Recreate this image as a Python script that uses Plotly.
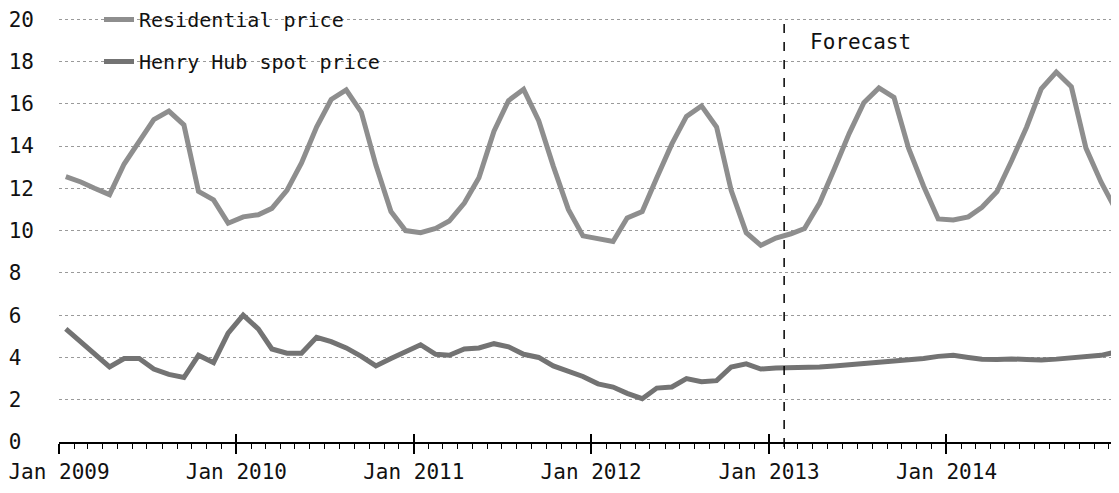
import pandas as pd
import plotly.graph_objects as go

# ---- data ----
months = pd.date_range("2009-01-01", periods=72, freq="MS") + pd.Timedelta(days=14)

residential_price = [
    12.55, 12.3, 12.0, 11.7, 13.15, 14.2, 15.25, 15.65, 15.0, 11.85, 11.45, 10.35,   # 2009
    10.65, 10.75, 11.05, 11.9, 13.2, 14.9, 16.2, 16.65, 15.6, 13.1, 10.9, 10.0,      # 2010
    9.9, 10.1, 10.45, 11.3, 12.5, 14.7, 16.15, 16.68, 15.2, 13.05, 11.0, 9.75,       # 2011
    9.6, 9.48, 10.6, 10.9, 12.5, 14.1, 15.4, 15.9, 14.9, 11.9, 9.9, 9.3,             # 2012
    9.65, 9.85, 10.1, 11.3, 12.9, 14.6, 16.05, 16.75, 16.3, 13.9, 12.1, 10.55,       # 2013
    10.5, 10.65, 11.1, 11.85, 13.3, 14.9, 16.7, 17.5, 16.8, 13.9, 12.3, 11.0,        # 2014
]

henry_hub_price = [
    5.35, 4.75, 4.15, 3.55, 3.95, 3.95, 3.45, 3.2, 3.05, 4.1, 3.75, 5.15,            # 2009
    6.0, 5.35, 4.4, 4.2, 4.2, 4.95, 4.75, 4.45, 4.05, 3.6, 3.95, 4.3,                # 2010
    4.6, 4.15, 4.1, 4.4, 4.45, 4.65, 4.5, 4.15, 4.0, 3.6, 3.35, 3.1,                 # 2011
    2.75, 2.6, 2.3, 2.05, 2.55, 2.6, 3.0, 2.85, 2.9, 3.55, 3.7, 3.45,                # 2012
    3.5, 3.5, 3.5, 3.55, 3.6, 3.65, 3.7, 3.75, 3.8, 3.85, 3.95, 4.05,                # 2013
    4.1, 4.0, 3.92, 3.9, 3.93, 3.9, 3.88, 3.92, 3.97, 4.03, 4.1, 4.25,               # 2014
]

series_names = ["Residential price", "Henry Hub spot price"]
forecast_start = "2013-02-01"
forecast_label = "Forecast"
x_range = ["2009-01-01", "2014-12-22"]
y_range = [0, 20.15]
y_ticks = [0, 2, 4, 6, 8, 10, 12, 14, 16, 18, 20]
y_ticktext = [f"{v}\u00a0" if v < 10 else f"{v}" for v in y_ticks]

FONT = "DejaVu Sans Mono"
# the page body adds an 8px offset at top/left; figure size compensates for it
W, H = 1111, 485
ML, MT, MB = 51, 8, 51
PLOT_W, PLOT_H = W - ML, H - MT - MB

fig = go.Figure()
fig.add_trace(go.Scatter(
    x=months, y=residential_price, name=series_names[0], mode="lines",
    line=dict(color="#8e8e8e", width=5), legendgroup="a", xaxis="x", yaxis="y",
))
fig.add_trace(go.Scatter(
    x=months, y=henry_hub_price, name=series_names[1], mode="lines",
    line=dict(color="#737373", width=5), legendgroup="b", xaxis="x", yaxis="y",
))

fig.add_shape(type="line", xref="x", yref="paper", x0=forecast_start, x1=forecast_start,
              y0=-0.012, y1=0.993, line=dict(color="black", width=1.5, dash="dash"))
fig.add_annotation(x=forecast_start, y=18.9, xref="x", yref="y", text=forecast_label,
                   showarrow=False, xanchor="left", yanchor="middle", xshift=24,
                   font=dict(family=FONT, size=21, color="#111"))

fig.update_layout(
    width=W, height=H,
    margin=dict(l=ML, r=0, t=MT, b=MB, autoexpand=False),
    paper_bgcolor="white", plot_bgcolor="white",
    font=dict(family=FONT, size=21, color="#111"),
    showlegend=True,
    legend=dict(
        x=(91 - ML) / PLOT_W, y=1 + (MT + 8) / PLOT_H, xref="paper", yref="paper",
        xanchor="left", yanchor="top", bgcolor="rgba(0,0,0,0)",
        font=dict(family=FONT, size=20, color="#111"),
        traceorder="grouped", tracegroupgap=13,
    ),
    xaxis=dict(
        type="date", range=x_range, tick0="2009-01-01", dtick="M12",
        tickformat="%b %Y", showgrid=False, zeroline=False,
        showline=True, linecolor="black", linewidth=2,
        ticks="outside", ticklen=10, tickwidth=2, tickcolor="black",
        minor=dict(dtick="M1", ticks="outside", ticklen=5, tickwidth=1,
                   tickcolor="black", showgrid=False),
        tickfont=dict(family=FONT, size=21, color="#111"),
        ticklabeloverflow="allow", automargin=False,
    ),
    xaxis2=dict(
        type="date", range=x_range, tick0="2009-01-01", dtick="M12",
        overlaying="x", anchor="y", side="bottom", showgrid=False, zeroline=False,
        showline=False, ticks="inside", ticklen=8, tickwidth=2, tickcolor="black",
        showticklabels=False, automargin=False,
    ),
    yaxis=dict(
        range=y_range, tickvals=y_ticks, ticktext=y_ticktext,
        showgrid=True, gridcolor="#9a9a9a", gridwidth=1, griddash="dot",
        zeroline=False, showline=False, ticks="", ticklabelstandoff=24,
        tickfont=dict(family=FONT, size=21, color="#111"),
        ticklabeloverflow="allow", automargin=False,
    ),
)

# invisible helper so the overlay axis (upper half of the year ticks) is rendered
fig.add_trace(go.Scatter(x=[months[0]], y=[residential_price[0]], xaxis="x2", yaxis="y",
                         mode="markers", marker=dict(opacity=0), showlegend=False,
                         hoverinfo="skip"))

fig.write_html("out.html")
